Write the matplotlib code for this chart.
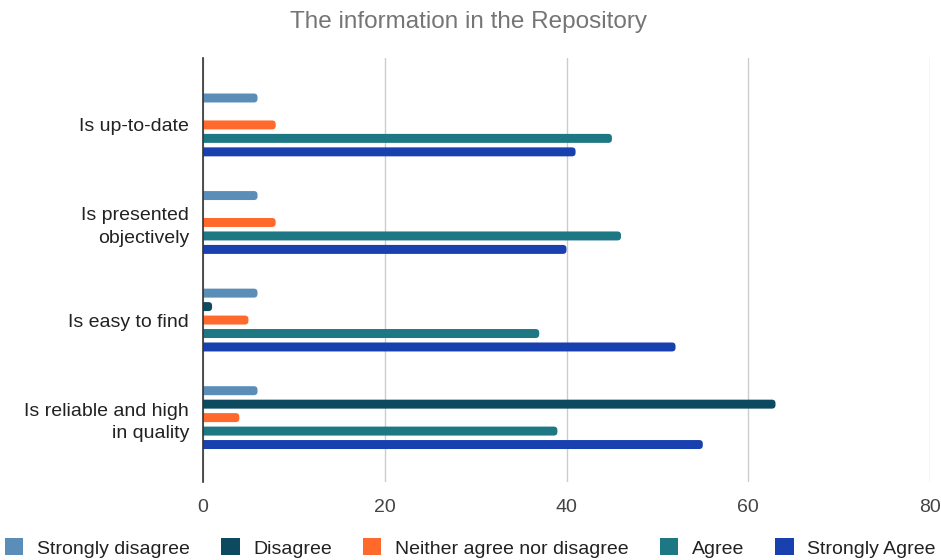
import numpy as np
import matplotlib

matplotlib.use("Agg")
import matplotlib.pyplot as plt  # noqa: E402
from matplotlib.patches import FancyBboxPatch  # noqa: E402

plt.rcParams.update({
    "font.family": ["Liberation Sans", "DejaVu Sans"],
    "font.size": 14,
})

# survey statements, top to bottom
statements = [
    "Is up-to-date",
    "Is presented\nobjectively",
    "Is easy to find",
    "Is reliable and high\nin quality",
]
responses = ["Strongly disagree", "Disagree", "Neither agree nor disagree",
             "Agree", "Strongly Agree"]
strongly_disagree = [6, 6, 6, 6]
disagree = [0, 0, 1, 63]
neither = [8, 8, 5, 4]
agree = [45, 46, 37, 39]
strongly_agree = [41, 40, 52, 55]

colors = ["#5a8db8", "#0d4a5f", "#ff6a2c", "#1e7884", "#1840ae"]

series = [strongly_disagree, disagree, neither, agree, strongly_agree]

fig = plt.figure(figsize=(9.41, 5.6), dpi=100)
ax = fig.add_axes([203 / 941, 1 - 482 / 560, 727 / 941, 424 / 560])

y = np.arange(len(statements))
step, height = 0.138, 0.092
# x-units per pixel vs y-units per pixel, for round bar ends
aspect = (80 / 727) / (4.346 / 424)
for i, (vals, name, c) in enumerate(zip(series, responses, colors)):
    bars = ax.barh(y + (i - 2) * step, vals, height=height, color=c,
                   label=name, zorder=3)
    # swap the square bars for ones with rounded right ends
    for r in bars:
        r.set_visible(False)
        if r.get_width() <= 0:
            continue
        bx, by = r.get_xy()
        rb = FancyBboxPatch((bx - 1, by), r.get_width() + 1, r.get_height(),
                            boxstyle="round,pad=0,rounding_size=0.4",
                            mutation_aspect=1 / aspect, fc=c, ec="none",
                            zorder=3)
        ax.add_patch(rb)

ax.set_xlim(0, 80)
ax.set_ylim(3.66, -0.686)
ax.set_xticks([0, 20, 40, 60, 80])
ax.set_yticks(y)
ax.set_yticklabels(statements, ha="right", ma="right", color="#222222",
                   fontsize=14, linespacing=1.4)
ax.tick_params(axis="both", length=0)
ax.tick_params(axis="x", pad=12, labelcolor="#444444", labelsize=14)
ax.tick_params(axis="y", pad=10)
ax.grid(axis="x", color="#cccccc", lw=1, zorder=0)
for s in ("top", "right", "bottom"):
    ax.spines[s].set_visible(False)
ax.spines["left"].set_color("#333333")
ax.spines["left"].set_linewidth(1.2)
ax.spines["left"].set_zorder(4)

fig.text(0.498, 1 - 22 / 560, "The information in the Repository",
         ha="center", va="center", color="#757575", fontsize=17.5)

handles = [plt.Rectangle((0, 0), 1, 1, fc=c, ec="none") for c in colors]
fig.legend(handles, responses, loc="center",
           bbox_to_anchor=(0.5, 1 - 548 / 560), ncol=5,
           frameon=False, handlelength=0.95, handleheight=0.95,
           handletextpad=0.7, columnspacing=1.6, fontsize=14,
           labelcolor="#222222", borderpad=0, borderaxespad=0)

fig.savefig("out.png", dpi=100)
